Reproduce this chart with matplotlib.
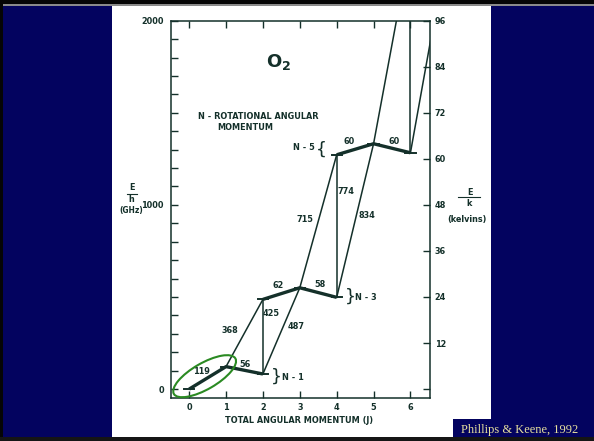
import numpy as np
import matplotlib.pyplot as plt
from matplotlib.patches import Rectangle, Ellipse
from matplotlib.lines import Line2D
from matplotlib.transforms import ScaledTranslation

# O2 rotational levels, E/h in GHz, one pair of arrays per N
j_values = [0, 1, 2, 3, 4, 5, 6]
n1_j = [0, 1, 2]
n1_e = [0, 122, 82]
n3_j = [2, 3, 4]
n3_e = [487, 550, 498]
n5_j = [4, 5, 6]
n5_e = [1272, 1332, 1283]
n7_j = [6, 7]
n7_e = [2410, 2400]

# transitions between levels, given as (N, J)
trans_from = [(1, 1), (1, 2), (1, 2), (3, 3), (3, 4), (3, 4), (5, 5), (5, 6), (5, 6)]
trans_to   = [(3, 2), (3, 2), (3, 3), (5, 4), (5, 4), (5, 5), (7, 6), (7, 6), (7, 7)]

freq_labels = ['119', '56', '368', '425', '487', '62', '58',
               '715', '774', '834', '60', '60']

GHZ_PER_K = 20.8366
W, H = 594, 441

NAVY = '#03035f'
INK = '#14302a'
FONT = ['DejaVu Sans Condensed', 'DejaVu Sans']
STRETCH = 'condensed'


def px_rect(fig, x0, y0, x1, y1, color):
    fig.add_artist(Rectangle((x0 / W, 1 - y1 / H), (x1 - x0) / W, (y1 - y0) / H,
                             transform=fig.transFigure, color=color, lw=0, zorder=0))


def px_text(fig, x, y, s, **kw):
    kw.setdefault('family', FONT)
    kw.setdefault('stretch', STRETCH)
    kw.setdefault('fontweight', 'bold')
    kw.setdefault('fontsize', 6.5)
    kw.setdefault('color', INK)
    fig.text(x / W, 1 - y / H, s, ha='center', va='center', **kw)


def main():
    fig = plt.figure(figsize=(W / 100, H / 100), dpi=100, facecolor=NAVY)

    # slide frame
    px_rect(fig, 0, 0, W, 4, '#050505')
    px_rect(fig, 0, 4, W, 5.5, '#8a8a8a')
    px_rect(fig, 0, 0, 3, H, '#050505')
    px_rect(fig, 0, 437, W, H, '#151515')
    px_rect(fig, 112, 6, 491, 437, 'white')
    px_rect(fig, 453, 419, W, 437, NAVY)
    fig.text(520 / W, 1 - 430.5 / H, 'Phillips & Keene, 1992', ha='center', va='center',
             family='Liberation Serif', fontsize=9, color='#e6df9e')

    ax = fig.add_axes([170.7 / W, 1 - 398.3 / H, (430 - 170.7) / W, (398.3 - 20.7) / H])
    ax.set_facecolor('none')
    ax.set_xlim(-0.5, 6.53)
    ax.set_ylim(-50, 2000)

    levels = {}
    for n, js, es in [(1, n1_j, n1_e), (3, n3_j, n3_e), (5, n5_j, n5_e), (7, n7_j, n7_e)]:
        for j, e in zip(js, es):
            levels[(n, j)] = e

    # transitions (thin)
    for a, b in zip(trans_from, trans_to):
        ax.plot([a[1], b[1]], [levels[a], levels[b]], color=INK, lw=1.1)

    # levels within each N (thick) and short level marks
    for js, es in [(n1_j, n1_e), (n3_j, n3_e), (n5_j, n5_e)]:
        ax.plot(js, es, color=INK, lw=2.4, solid_capstyle='butt')
        for j, e in zip(js, es):
            ax.plot([j - 0.14, j + 0.14], [e, e], color=INK, lw=1.4)

    tkw = dict(family=FONT, stretch=STRETCH, fontweight='bold', fontsize=6.5,
               color=INK, ha='center', va='center')
    label_pos = [(0.34, 94), (1.51, 134), (1.10, 320), (2.23, 411), (2.91, 342),
                 (2.40, 563), (3.56, 568), (3.14, 922), (4.24, 1073), (4.81, 942),
                 (4.34, 1344), (5.57, 1344)]
    for s, (x, y) in zip(freq_labels, label_pos):
        ax.text(x, y, s, **tkw)

    # N annotations with braces
    bkw = dict(family='DejaVu Sans', fontsize=12.5, color=INK, ha='center', va='center')
    ax.text(3.10, 1312, 'N - 5', **tkw)
    ax.text(3.59, 1297, '{', **bkw)
    ax.text(4.37, 501, '}', **bkw)
    ax.text(4.50, 498, 'N - 3', **dict(tkw, ha='left'))
    ax.text(2.37, 66, '}', **bkw)
    ax.text(2.51, 63, 'N - 1', **dict(tkw, ha='left'))

    ax.text(2.43, 1776, r'O$_\mathbf{2}$', family=FONT, fontweight='bold',
            fontsize=13, color=INK, ha='center', va='center')
    ax.text(1.87, 1481, 'N - ROTATIONAL ANGULAR', **tkw)
    ax.text(1.53, 1418, 'MOMENTUM', **tkw)

    # green ring around the 119 GHz line
    ax.add_patch(Ellipse((0, 0), 71, 26, angle=30, fill=False, ec='#2a8a22', lw=1.5,
                         transform=ScaledTranslation(0.42, 70, ax.transData),
                         clip_on=False, zorder=5))

    # axes styling
    for sp in ax.spines.values():
        sp.set_color(INK)
        sp.set_linewidth(1.1)
    ax.set_xticks(j_values)
    ax.set_xticklabels([str(j) for j in j_values])
    yt = np.arange(0, 2001, 100)
    ax.set_yticks(yt)
    ax.set_yticklabels([str(v) if v % 1000 == 0 else '' for v in yt])
    ax.tick_params(direction='in', length=5, width=1, color=INK, labelcolor=INK,
                   top=True, labelsize=6.5)
    ax.tick_params(axis='x', pad=3.5)
    ax.tick_params(axis='y', pad=5)
    for lab in ax.get_xticklabels() + ax.get_yticklabels():
        lab.set_family(FONT)
        lab.set_stretch(STRETCH)
        lab.set_fontweight('bold')

    ax2 = ax.twinx()
    ax2.set_ylim(-50 / GHZ_PER_K, 2000 / GHZ_PER_K)
    kt = np.arange(0, 97, 12)
    ax2.set_yticks(kt)
    ax2.set_yticklabels(['' if v == 0 else str(v) for v in kt])
    ax2.tick_params(direction='in', length=5, width=1, color=INK, labelcolor=INK,
                    labelsize=6.5, pad=3.5)
    for lab in ax2.get_yticklabels():
        lab.set_family(FONT)
        lab.set_stretch(STRETCH)
        lab.set_fontweight('bold')
    for sp in ax2.spines.values():
        sp.set_visible(False)

    # axis titles
    px_text(fig, 299, 420.7, 'TOTAL ANGULAR MOMENTUM (J)')
    px_text(fig, 131.7, 187.7, 'E')
    fig.add_artist(Line2D([127.3 / W, 136.5 / W], [1 - 193.8 / H, 1 - 193.8 / H],
                          transform=fig.transFigure, color=INK, lw=0.8))
    px_text(fig, 131.7, 199.3, 'h')
    px_text(fig, 131.7, 210.7, '(GHz)', fontsize=6)
    px_text(fig, 470, 192.5, 'E')
    fig.add_artist(Line2D([458.3 / W, 480 / W], [1 - 197.3 / H, 1 - 197.3 / H],
                          transform=fig.transFigure, color=INK, lw=0.8))
    px_text(fig, 469.5, 203.3, 'k')
    px_text(fig, 467, 219.3, '(kelvins)')

    plt.savefig('out.png', dpi=100, facecolor=NAVY)
    plt.close()


if __name__ == "__main__":
    main()
